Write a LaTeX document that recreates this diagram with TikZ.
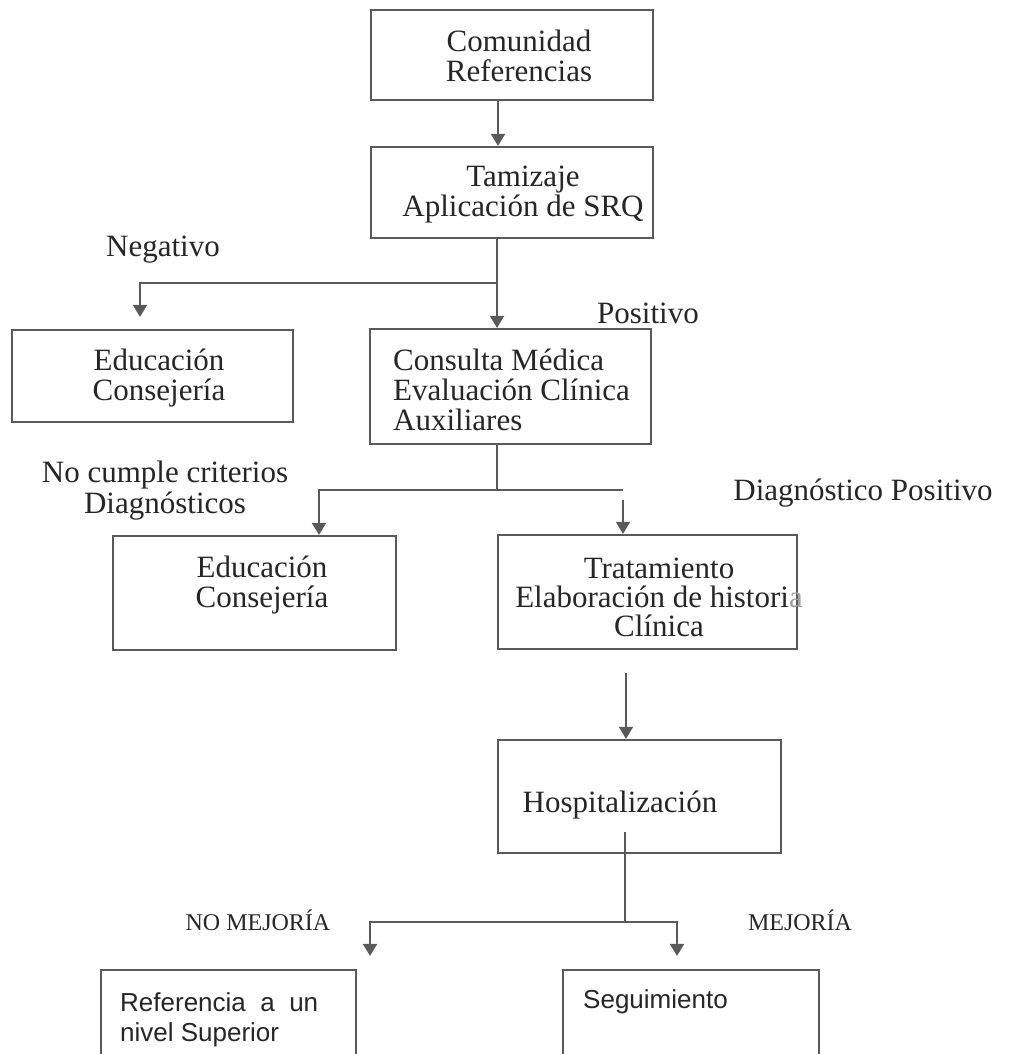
\documentclass[tikz,border=0pt]{standalone}
\usepackage{fontspec}
\setmainfont{Liberation Serif}
\newfontfamily\arialf{Liberation Sans}
\usetikzlibrary{arrows.meta}
\definecolor{ln}{HTML}{5A5A5A}
\definecolor{tx}{HTML}{262626}
\definecolor{faint}{HTML}{A0A0A0}
\begin{document}
\begin{tikzpicture}[x=1pt,y=-1pt,
  box/.style={draw=ln, line width=2.2pt, inner sep=0pt, fill=none},
  conn/.style={draw=ln, line width=2pt},
  thin conn/.style={draw=ln, line width=1.5pt},
  arr/.style={-{Triangle[width=14pt,length=12pt]}},
  txt/.style={inner sep=0pt, text=tx, align=center, font={\fontsize{31}{30}\selectfont}},
  txtl/.style={inner sep=0pt, text=tx, align=left, anchor=west, font={\fontsize{31}{30}\selectfont}},
  small/.style={inner sep=0pt, text=tx, font={\fontsize{24}{26}\selectfont}},
  sans/.style={inner sep=0pt, text=tx, align=left, anchor=west, font={\arialf\fontsize{26}{30}\selectfont}}]
\path[use as bounding box] (0,0) rectangle (1016,1054);
\clip (0,0) rectangle (1016,1054);
\fill[white] (0,0) rectangle (1016,1054);

% boxes
\node[box, minimum width=282pt, minimum height=90pt] (c1) at (512,55) {};
\node[box, minimum width=282pt, minimum height=91pt] (c2) at (512,192.5) {};
\node[box, minimum width=281pt, minimum height=92pt] (e1) at (152.5,376) {};
\node[box, minimum width=281pt, minimum height=115pt] (c3) at (510.5,386.5) {};
\node[box, minimum width=283pt, minimum height=114pt] (e2) at (254.5,593) {};
\node[box, minimum width=299pt, minimum height=114pt] (t) at (647.5,592) {};
\node[box, minimum width=283pt, minimum height=113pt] (h) at (639.5,796.5) {};
\node[box, minimum width=255pt, minimum height=120pt] (r) at (228.5,1030) {};
\node[box, minimum width=256pt, minimum height=120pt] (s) at (691,1030) {};

% texts
\node[txt] (tc1) at (519,55.5) {Comunidad\\Referencias};
\node[txt] (tc2) at (523,195) {Tamizaje\\Aplicación de SRQ};
\node[txt] (tneg) at (163,250) {Negativo};
\node[txt] (tpos) at (648,313) {Positivo};
\node[txt] (te1) at (159,378) {Educación\\Consejería};
\node[txtl] (tc3) at (393,390) {Consulta Médica\\Evaluación Clínica\\Auxiliares};
\node[txt, font={\fontsize{31}{31}\selectfont}] (tnc) at (165,491) {No cumple criterios\\Diagnósticos};
\node[txt] (tdp) at (863,493) {Diagnóstico Positivo};
\node[txt] (te2) at (262,585) {Educación\\Consejería};
\node[txt, font={\fontsize{31}{29}\selectfont}] (tt) at (659,597) {Tratamiento\\Elaboración de histori\textcolor{faint}{a}\\Clínica};
\node[txt] (th) at (620,805) {Hospitalización};
\node[small] (tnm) at (258,920) {NO MEJORÍA};
\node[small] (tm) at (800,920) {MEJORÍA};
\node[sans] (tr) at (120,1020) {Referencia\ \ a\ \ un\\nivel Superior};
\node[sans] (ts) at (583,1002) {Seguimiento};

% junction coordinates
\coordinate (v1) at (498,0);
\coordinate (jm1) at (497,283);
\coordinate (jl1) at (140,283);
\coordinate (jm2) at (497,490);
\coordinate (jl2) at (319,490);
\coordinate (jr2) at (623,490);
\coordinate (jr2b) at (623,500);
\coordinate (v3) at (626,0);
\coordinate (hs) at (625,832);
\coordinate (jm3) at (625,922);
\coordinate (jl3) at (370,922);
\coordinate (jr3) at (677,922);

% connectors
\draw[conn, arr] (c1.south -| v1) -- (c2.north -| v1);
\draw[conn] (c2.south -| jm1) -- (jm1);
\draw[conn, arr] (jm1) -- (c3.north -| jm1);
\draw[conn, arr, shorten >=12pt] (jm1) -- (jl1) -- (e1.north -| jl1);
\draw[conn] (c3.south -| jm2) -- (jm2);
\draw[conn, arr] (jr2) -- (jl2) -- (e2.north -| jl2);
\draw[thin conn, arr] (jr2b) -- (t.north -| jr2b);
\draw[thin conn, arr, shorten <=23pt] (t.south -| v3) -- (h.north -| v3);
\draw[thin conn] (hs) -- (jm3);
\draw[conn, arr, shorten >=13pt] (jm3) -- (jl3) -- (r.north -| jl3);
\draw[conn, arr, shorten >=13pt] (jm3) -- (jr3) -- (s.north -| jr3);
\end{tikzpicture}
\end{document}
